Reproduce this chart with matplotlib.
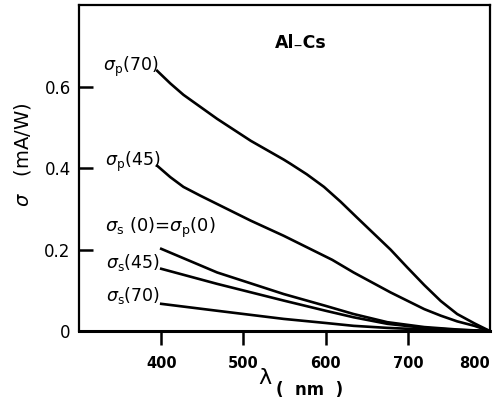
import matplotlib
matplotlib.use('Agg')
import matplotlib.pyplot as plt

# wavelength (nm) and sensitivity (mA/W)
lam_p70 = [395, 411, 427, 468, 509, 549, 557, 577, 598, 618, 638, 679, 699, 720, 740, 760, 781, 800]
sig_p70 = [0.639, 0.608, 0.580, 0.521, 0.467, 0.421, 0.411, 0.385, 0.354, 0.318, 0.279, 0.200, 0.157,
           0.113, 0.074, 0.042, 0.019, 0.0]

lam_p45 = [395, 411, 427, 448, 468, 509, 549, 569, 608, 634, 679, 699, 720, 740, 760, 781, 800]
sig_p45 = [0.406, 0.378, 0.354, 0.332, 0.312, 0.271, 0.234, 0.214, 0.175, 0.144, 0.095, 0.075, 0.054,
           0.038, 0.024, 0.013, 0.0]

lam_s = [400, 468, 549, 600, 634, 675, 720, 760, 800]
sig_s0 = [0.202, 0.144, 0.091, 0.062, 0.042, 0.022, 0.010, 0.004, 0.0]
sig_s45 = [0.153, 0.116, 0.075, 0.050, 0.034, 0.018, 0.008, 0.003, 0.0]
sig_s70 = [0.067, 0.050, 0.030, 0.020, 0.013, 0.008, 0.004, 0.002, 0.0]

x_ticks = [400, 500, 600, 700, 800]
y_ticks = [0, 0.2, 0.4, 0.6]
y_ticklabels = ['0', '0.2', '0.4', '0.6']

plt.rcParams['mathtext.fontset'] = 'dejavusans'

fig = plt.figure(figsize=(4.94, 3.98), dpi=100)
ax = fig.add_axes([0.160, 0.168, 0.832, 0.819])

lw = 1.9
ax.plot(lam_p70, sig_p70, color='black', lw=lw)
ax.plot(lam_p45, sig_p45, color='black', lw=lw)
ax.plot(lam_s, sig_s0, color='black', lw=lw)
ax.plot(lam_s, sig_s45, color='black', lw=lw)
ax.plot(lam_s, sig_s70, color='black', lw=lw)

ax.set_xlim(300, 800)
ax.set_ylim(0, 0.8)

for side in ['left', 'top', 'right']:
    ax.spines[side].set_linewidth(1.6)
ax.spines['bottom'].set_linewidth(2.2)

ax.set_xticks(x_ticks)
xlabels = ax.set_xticklabels([str(v) for v in x_ticks], family='Liberation Sans Narrow',
                             fontweight='bold', fontsize=10.5)
xlabels[-1].set_horizontalalignment('right')
ax.tick_params(axis='x', direction='out', length=10, width=1.8, pad=8)
ax.xaxis.get_major_ticks()[-1].tick1line.set_visible(False)

ax.set_yticks(y_ticks)
ax.set_yticklabels(y_ticklabels, fontsize=12)
ax.tick_params(axis='y', direction='in', length=10, width=1.8, pad=6)
ax.yaxis.get_major_ticks()[0].tick1line.set_visible(False)

# curve labels
fs = 12.5
ax.text(396, 0.648, r'$\sigma_{\rm p}$(70)', ha='right', va='center', fontsize=fs)
ax.text(399, 0.415, r'$\sigma_{\rm p}$(45)', ha='right', va='center', fontsize=fs)
ax.text(331, 0.254, r'$\sigma_{\rm s}$ (0)=$\sigma_{\rm p}$(0)', ha='left', va='center', fontsize=13)
ax.text(399, 0.168, r'$\sigma_{\rm s}$(45)', ha='right', va='center', fontsize=fs)
ax.text(399, 0.087, r'$\sigma_{\rm s}$(70)', ha='right', va='center', fontsize=fs)

ax.text(0.539, 0.883, 'Al\u208bCs', transform=ax.transAxes, ha='center', va='center',
        fontsize=12.5, fontweight='bold')

ax.set_ylabel(r'$\sigma$   (mA/W)', fontsize=14)
ax.yaxis.set_label_coords(-0.112, 0.54)
fig.text(0.537, 0.05, '\u03bb', fontsize=16, ha='center', va='center')
fig.text(0.627, 0.02, '(  nm  )', fontsize=12, fontweight='bold', ha='center', va='center')

fig.savefig('out.png', dpi=100)
